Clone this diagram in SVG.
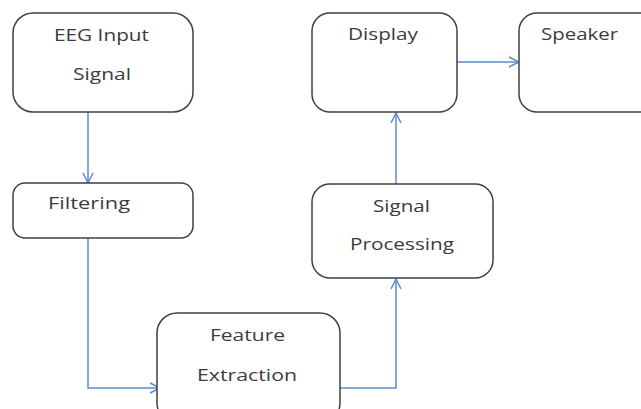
<svg xmlns="http://www.w3.org/2000/svg" width="641" height="409" viewBox="0 0 641 409">
  <style>
    .box { fill: #ffffff; stroke: #404040; stroke-width: 1.5; }
    .lbl { font-family: "Open Sans", "Liberation Sans", sans-serif; font-size: 16.5px; fill: #3c3c3c; }
    .wire { fill: none; stroke: #5b8cc8; stroke-width: 1.5; marker-end: url(#arrow); }
  </style>
  <defs>
    <marker id="arrow" viewBox="0 0 12 12" refX="11" refY="6" markerWidth="12" markerHeight="12" markerUnits="userSpaceOnUse" orient="auto">
      <path d="M1,1 L11,6 L1,11" fill="none" stroke="#5b8cc8" stroke-width="1.5"/>
    </marker>
  </defs>
  <rect width="641" height="409" fill="#ffffff"/>

  <g id="connectors">
    <path class="wire" d="M88,112 V183"/>
    <path class="wire" d="M88,238 V388 H160"/>
    <path class="wire" d="M340,388 H396 V279"/>
    <path class="wire" d="M396,184 V113"/>
    <path class="wire" d="M457,62 H519"/>
  </g>

  <g id="eeg-input">
    <rect class="box" x="13" y="13" width="180" height="99" rx="20"/>
    <text class="lbl" x="54" y="41" textLength="95" lengthAdjust="spacingAndGlyphs">EEG Input</text>
    <text class="lbl" x="73" y="80" textLength="58" lengthAdjust="spacingAndGlyphs">Signal</text>
  </g>

  <g id="filtering">
    <rect class="box" x="13" y="183" width="180" height="55" rx="12"/>
    <text class="lbl" x="48" y="209" textLength="82" lengthAdjust="spacingAndGlyphs">Filtering</text>
  </g>

  <g id="feature-extraction">
    <rect class="box" x="157" y="313" width="183" height="110" rx="20"/>
    <text class="lbl" x="210" y="341" textLength="75" lengthAdjust="spacingAndGlyphs">Feature</text>
    <text class="lbl" x="197" y="381" textLength="100" lengthAdjust="spacingAndGlyphs">Extraction</text>
  </g>

  <g id="signal-processing">
    <rect class="box" x="312" y="184" width="181" height="94" rx="18"/>
    <text class="lbl" x="373" y="212" textLength="57" lengthAdjust="spacingAndGlyphs">Signal</text>
    <text class="lbl" x="350" y="250" textLength="104" lengthAdjust="spacingAndGlyphs">Processing</text>
  </g>

  <g id="display">
    <rect class="box" x="312" y="13" width="145" height="99" rx="18"/>
    <text class="lbl" x="348" y="40" textLength="70" lengthAdjust="spacingAndGlyphs">Display</text>
  </g>

  <g id="speaker">
    <rect class="box" x="519" y="13" width="140" height="99" rx="18"/>
    <text class="lbl" x="541" y="40" textLength="77" lengthAdjust="spacingAndGlyphs">Speaker</text>
  </g>
</svg>
